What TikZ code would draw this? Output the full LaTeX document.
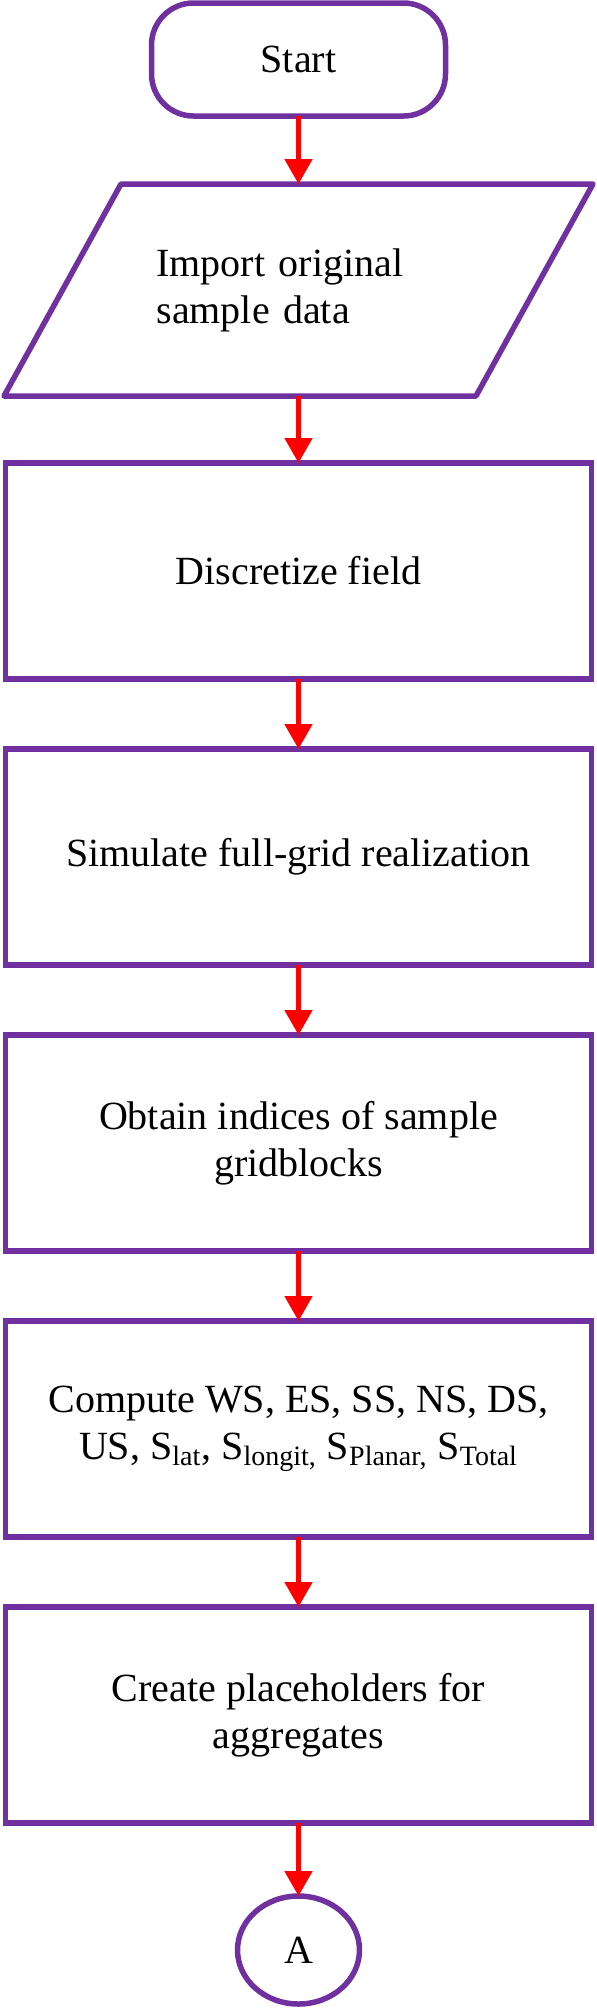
\documentclass[tikz,border=0pt]{standalone}
\usepackage{fontspec}
\setmainfont{Liberation Serif}
\usepackage{xcolor}
\usetikzlibrary{shapes.geometric, arrows.meta, positioning}
\definecolor{flowpurple}{RGB}{112,48,160}
\tikzset{
  flowtext/.style={font=\fontsize{20pt}{23.5pt}\selectfont, align=center,
                   outer sep=0pt, inner sep=0pt},
  terminal/.style={flowtext, rectangle, draw=flowpurple, rounded corners=21pt,
                   minimum width=147pt, minimum height=56.5pt, line width=2.75pt},
  io/.style={flowtext, rectangle, minimum width=294.5pt, minimum height=106pt,
             text width=142pt, align=left},
  ioborder/.style={draw=flowpurple, line width=2.75pt, line join=round},
  process/.style={flowtext, rectangle, draw=flowpurple, minimum width=293pt,
                  minimum height=108pt, line width=2.75pt},
  connector/.style={flowtext, ellipse, draw=flowpurple, minimum width=61pt,
                    minimum height=54pt, line width=2.75pt},
  arrow/.style={-{Triangle[width=13.5pt, length=12.5pt]}, draw=red,
                line width=2.5pt},
}

\begin{document}
\begin{tikzpicture}
  \useasboundingbox (0,0) rectangle (298pt,-1005pt);

  \node[terminal] (start) at (149.25pt,-29.75pt) {Start};
  \node[io, below=34pt of start] (import) {Import original\\sample data};
  \draw[ioborder] (import.south west) -- ([xshift=-58.5pt]import.south east)
    -- (import.north east) -- ([xshift=58.5pt]import.north west) -- cycle;
  \node[process, below=33.5pt of import] (discr) {Discretize field};
  \node[process, below=35pt of discr] (simul) {Simulate full-grid realization};
  \node[process, below=35pt of simul] (indices) {Obtain indices of sample\\gridblocks};
  \node[process, below=35pt of indices] (comp)
    {Compute WS, ES, SS, NS, DS,\\
     US, S\textsubscript{lat}, S\textsubscript{longit,} S\textsubscript{Planar,} S\textsubscript{Total}};
  \node[process, below=35pt of comp] (holders) {Create placeholders for\\aggregates};
  \node[connector, below=36.5pt of holders] (conA) {A};

  \draw[arrow] (start) -- (import); \draw[arrow] (import) -- (discr);
  \draw[arrow] (discr) -- (simul); \draw[arrow] (simul) -- (indices);
  \draw[arrow] (indices) -- (comp); \draw[arrow] (comp) -- (holders);
  \draw[arrow] (holders) -- (conA);
\end{tikzpicture}
\end{document}
